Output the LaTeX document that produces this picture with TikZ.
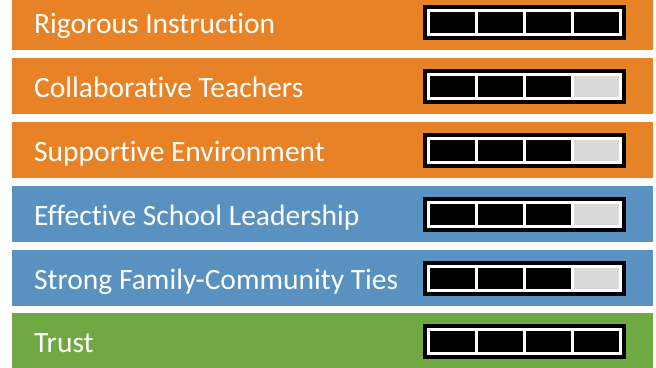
\documentclass[tikz,border=0pt]{standalone}
\usepackage{fontspec}
\setmainfont[RawFeature={-liga;-dlig}]{Carlito}
\definecolor{cOrange}{RGB}{232,130,38}
\definecolor{cBlue}{RGB}{89,145,193}
\definecolor{cGreen}{RGB}{112,168,68}
\definecolor{cGray}{RGB}{217,217,217}
\begin{document}
\begin{tikzpicture}[x=1pt,y=-1pt,
  band/.style={draw=none,fill=#1,minimum width=641pt,minimum height=56pt,anchor=north west,inner sep=0pt,outer sep=0pt},
  lbl/.style={text=white,anchor=base west,inner sep=0pt,font=\fontsize{29.5}{34}\selectfont},
  meter/.style={fill=black,draw=none,minimum width=203pt,minimum height=35pt,anchor=north west,inner sep=0pt,outer sep=0pt},
  meterin/.style={fill=white,draw=none,minimum width=195pt,minimum height=27pt,inner sep=0pt,outer sep=0pt},
  cell/.style={fill=#1,draw=none,minimum width=45pt,minimum height=21pt,anchor=north west,inner sep=0pt,outer sep=0pt}]
\useasboundingbox (0,0) rectangle (656,367);
\begin{scope}
\clip (0,0) rectangle (656,367);
\foreach \i/\top/\col/\txt/\last in {
  1/-6/cOrange/Rigorous Instruction/black,
  2/58/cOrange/Collaborative Teachers/cGray,
  3/122/cOrange/Supportive Environment/cGray,
  4/186/cBlue/Effective School Leadership/cGray,
  5/250/cBlue/Strong Family-Community Ties/cGray,
  6/313/cGreen/Trust/black}{
  \node[band=\col] (band\i) at (12,\top) {};
  \node[lbl] (label\i) at (34,\top+39) {\txt};
  \node[meter] (meter\i) at (423,\top+11) {};
  \node[meterin] (inner\i) at (meter\i.center) {};
  \node[cell=black] (cellA\i) at (430,\top+18) {};
  \node[cell=black] (cellB\i) at (478,\top+18) {};
  \node[cell=black] (cellC\i) at (526,\top+18) {};
  \node[cell=\last] (cellD\i) at (574,\top+18) {};
}
\end{scope}
\end{tikzpicture}
\end{document}
